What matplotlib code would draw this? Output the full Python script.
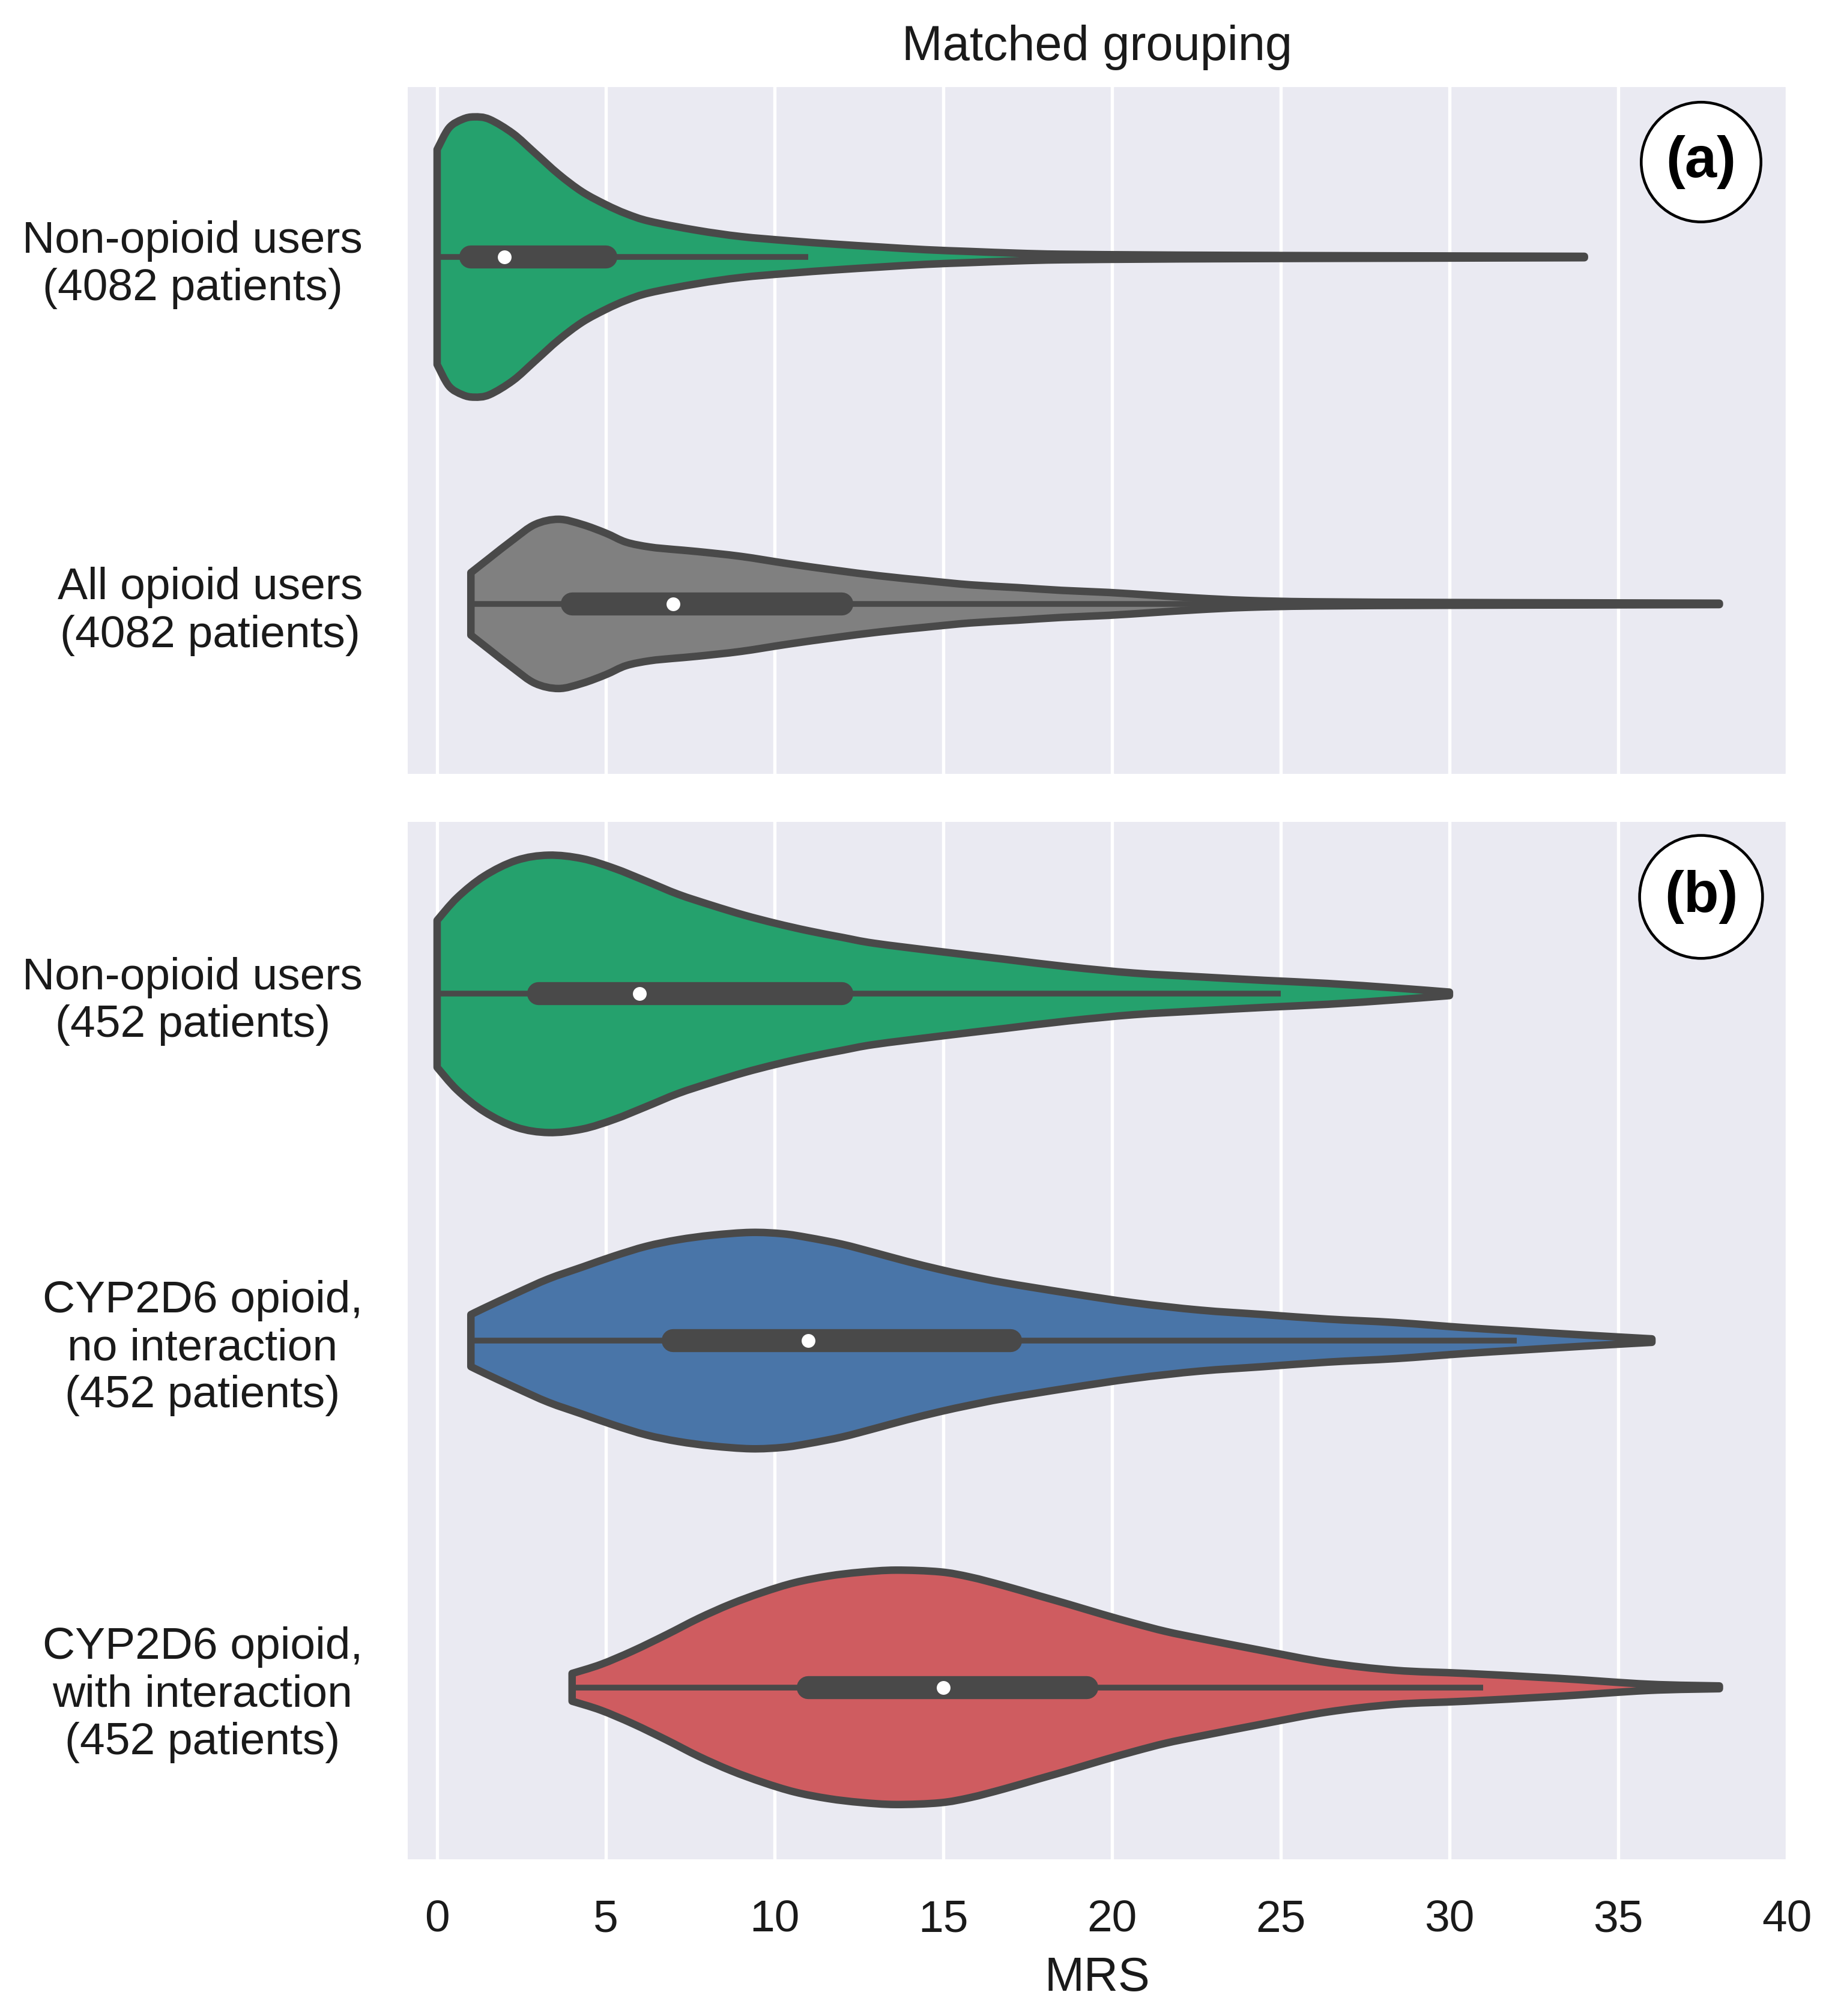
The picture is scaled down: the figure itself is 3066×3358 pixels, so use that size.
import matplotlib
matplotlib.use("Agg")
import matplotlib.pyplot as plt
from matplotlib.path import Path
from matplotlib.patches import PathPatch
import numpy as np

plt.rcParams['font.family'] = ['Liberation Sans', 'DejaVu Sans']

# ---------------- data ----------------
labels_a = ["Non-opioid users\n(4082 patients)", "All opioid users\n(4082 patients)"]
labels_b = ["Non-opioid users\n(452 patients)",
            "CYP2D6 opioid,\nno interaction\n(452 patients)",
            "CYP2D6 opioid,\nwith interaction\n(452 patients)"]

x_ticks = [0, 5, 10, 15, 20, 25, 30, 35, 40]

# violin outlines: MRS value and half-width (in category units)
nonop_a_mrs = [0, 0.35, 0.75, 1.1, 1.55, 2.25, 2.9, 3.6, 4.3, 5.0, 5.6, 6.3, 7.7, 9.0,
               10.4, 11.8, 13.1, 14.5, 15.8, 17.2, 18.5, 21, 23, 26, 30, 34]
nonop_a_hw = [0.31, 0.372, 0.397, 0.404, 0.397, 0.356, 0.30, 0.239, 0.188, 0.151, 0.125,
              0.103, 0.077, 0.059, 0.047, 0.037, 0.029, 0.021, 0.016, 0.011, 0.008,
              0.006, 0.005, 0.004, 0.003, 0.002]

allop_a_mrs = [1, 1.55, 2.25, 2.9, 3.6, 4.3, 5.0, 5.6, 6.3, 7.0, 7.7, 9.0, 10.4, 11.8, 13.1,
               14.5, 15.8, 17.2, 18.5, 19.9, 21.2, 22.5, 24, 26, 30, 34, 38]
allop_a_hw = [0.09, 0.132, 0.185, 0.229, 0.244, 0.229, 0.204, 0.178, 0.164, 0.157, 0.151,
              0.137, 0.116, 0.097, 0.081, 0.067, 0.055, 0.047, 0.039, 0.033, 0.025, 0.017,
              0.010, 0.006, 0.004, 0.003, 0.002]

nonop_b_mrs = [0, 0.6, 1.4, 2.35, 3.3, 4.3, 5.25, 6.2, 7.15, 8.15, 9.1, 10.05, 11.0, 12.0,
               12.95, 14.9, 16.8, 18.7, 20.65, 22.6, 24.5, 26.4, 28.4, 30]
nonop_b_hw = [0.212, 0.278, 0.34, 0.385, 0.40, 0.39, 0.362, 0.325, 0.287, 0.255, 0.227,
              0.203, 0.182, 0.163, 0.146, 0.122, 0.10, 0.078, 0.060, 0.049, 0.039, 0.030,
              0.017, 0.005]

noint_mrs = [1, 1.4, 2.35, 3.3, 4.3, 5.25, 6.2, 7.15, 8.15, 9.3, 10.25, 11.0, 12.0, 12.95,
             13.9, 14.9, 15.8, 16.8, 18.7, 20.65, 22.6, 24.5, 26.4, 28.4, 30.5, 32, 34, 36]
noint_hw = [0.075, 0.094, 0.137, 0.178, 0.212, 0.244, 0.272, 0.291, 0.304, 0.312, 0.308,
            0.297, 0.278, 0.254, 0.229, 0.205, 0.186, 0.167, 0.137, 0.109, 0.088, 0.075,
            0.062, 0.052, 0.037, 0.028, 0.016, 0.005]

withint_mrs = [4, 4.85, 5.8, 6.8, 7.75, 8.7, 9.65, 10.6, 11.6, 12.55, 13.6, 14.9, 15.8,
               16.8, 17.8, 18.7, 19.7, 20.65, 21.6, 22.6, 24.5, 26.4, 28.4, 30.5, 33.2,
               35.9, 38]
withint_hw = [0.04, 0.066, 0.105, 0.152, 0.199, 0.24, 0.274, 0.302, 0.321, 0.332, 0.338,
              0.333, 0.318, 0.293, 0.265, 0.240, 0.211, 0.185, 0.161, 0.141, 0.105, 0.071,
              0.049, 0.040, 0.026, 0.009, 0.004]

# box statistics: whisker low, Q1, median, Q3, whisker high
nonop_a_stats = [0, 1, 2, 5, 11]
allop_a_stats = [1, 4, 7, 12, 24]
nonop_b_stats = [0, 3, 6, 12, 25]
noint_stats = [1, 7, 11, 17, 32]
withint_stats = [4, 11, 15, 19.25, 31]

GREEN = "#25a16d"
GRAY = "#808080"
BLUE = "#4975a8"
RED = "#cf5c60"
EDGE = "#494949"
BG = "#EAEAF2"
TXT = "#1a1a1a"

# ---------------- figure ----------------
fig = plt.figure(figsize=(3066 / 300, 3358 / 300), dpi=300)
ax_a = fig.add_axes([0.2215, 0.61614, 0.7491, 0.34068])
ax_b = fig.add_axes([0.2215, 0.07773, 0.7491, 0.51459])


def curve_through(P):
    """Bezier (CURVE4) segments passing through the given points."""
    n = len(P)
    verts = []
    for i in range(n - 1):
        p0 = P[i - 1] if i > 0 else P[i]
        p1, p2 = P[i], P[i + 1]
        p3 = P[i + 2] if i + 2 < n else P[i + 1]
        verts += [p1 + (p2 - p0) / 6.0, p2 - (p3 - p1) / 6.0, p2]
    return verts


def draw_violin(ax, pos, mrs, hw, stats, color):
    mrs = np.asarray(mrs, dtype=float)
    hw = np.asarray(hw, dtype=float)
    top = np.column_stack([mrs, pos - hw])
    bot = np.column_stack([mrs, pos + hw])[::-1]
    verts = [top[0]]
    codes = [Path.MOVETO]
    seg = curve_through(top)
    verts += seg
    codes += [Path.CURVE4] * len(seg)
    verts.append(bot[0])
    codes.append(Path.LINETO)
    seg = curve_through(bot)
    verts += seg
    codes += [Path.CURVE4] * len(seg)
    verts.append(top[0])
    codes.append(Path.CLOSEPOLY)
    patch = PathPatch(Path(np.array(verts), codes), facecolor=color, edgecolor=EDGE,
                      linewidth=3.0, joinstyle='round', zorder=2)
    ax.add_patch(patch)
    lo, q1, med, q3, hi = stats
    ax.plot([lo, hi], [pos, pos], color=EDGE, lw=2.3, solid_capstyle='butt', zorder=3)
    ax.plot([q1, q3], [pos, pos], color=EDGE, lw=9.2, solid_capstyle='round', zorder=4)
    ax.plot([med], [pos], marker='o', ms=5.5, mfc='white', mec='none', ls='none', zorder=5)


def style_axes(ax, labels, ylim):
    ax.set_facecolor(BG)
    for s in ax.spines.values():
        s.set_visible(False)
    ax.set_xlim(-0.87, 40)
    ax.set_ylim(*ylim)
    ax.set_xticks(x_ticks)
    ax.set_yticks(range(len(labels)))
    ax.set_yticklabels(labels, multialignment='center', linespacing=1.19,
                       fontsize=18, color=TXT)
    ax.grid(axis='x', color='white', lw=1.3)
    ax.grid(axis='y', visible=False)
    ax.set_axisbelow(True)
    ax.tick_params(axis='both', length=0, colors=TXT)
    ax.tick_params(axis='y', pad=18)
    ax.tick_params(axis='x', pad=16, labelsize=18)


draw_violin(ax_a, 0, nonop_a_mrs, nonop_a_hw, nonop_a_stats, GREEN)
draw_violin(ax_a, 1, allop_a_mrs, allop_a_hw, allop_a_stats, GRAY)
draw_violin(ax_b, 0, nonop_b_mrs, nonop_b_hw, nonop_b_stats, GREEN)
draw_violin(ax_b, 1, noint_mrs, noint_hw, noint_stats, BLUE)
draw_violin(ax_b, 2, withint_mrs, withint_hw, withint_stats, RED)

style_axes(ax_a, labels_a, (1.49, -0.49))
style_axes(ax_b, labels_b, (2.496, -0.496))
ax_a.tick_params(axis='x', labelbottom=False)

ax_a.set_title("Matched grouping", fontsize=19.5, pad=10.8, color=TXT)
ax_b.set_xlabel("MRS", fontsize=19, labelpad=6, color=TXT)

for ax, txt, fy in [(ax_a, "(a)", 0.8908), (ax_b, "(b)", 0.9277)]:
    ax.text(0.9378, fy, txt, transform=ax.transAxes, ha='center', va='center',
            fontsize=23, fontweight='bold', color='black', zorder=6,
            bbox=dict(boxstyle='circle,pad=0.43', fc='white', ec='black', lw=1.1))

fig.savefig("out.png", dpi=300, facecolor='white')
